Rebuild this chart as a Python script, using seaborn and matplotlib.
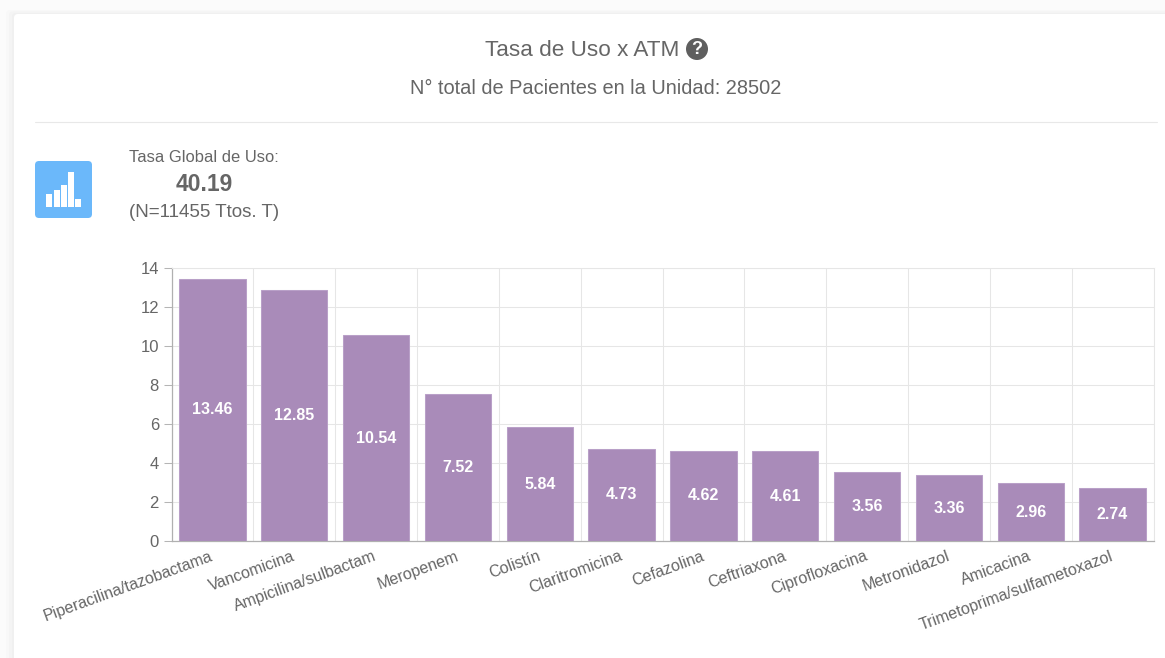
import pandas as pd
import seaborn as sns
import matplotlib.pyplot as plt
from matplotlib.patches import FancyBboxPatch, Rectangle, Circle
from matplotlib.transforms import ScaledTranslation

W, H = 1165, 658

# Data
drugs = ['Piperacilina/tazobactama', 'Vancomicina', 'Ampicilina/sulbactam', 'Meropenem',
         'Colistín', 'Claritromicina', 'Cefazolina', 'Ceftriaxona',
         'Ciprofloxacina', 'Metronidazol', 'Amicacina', 'Trimetoprima/sulfametoxazol']
rates = [13.46, 12.85, 10.54, 7.52, 5.84, 4.73, 4.62, 4.61, 3.56, 3.36, 2.96, 2.74]
y_ticks = [0, 2, 4, 6, 8, 10, 12, 14]

df = pd.DataFrame({'ATM': drugs, 'Tasa': rates})

sns.set_theme(style='white')
plt.rcParams['font.family'] = ['Liberation Sans', 'DejaVu Sans']

fig = plt.figure(figsize=(W / 100, H / 100), dpi=100, facecolor='#fbfbfb')

# Page layer in pixel coordinates
bg = fig.add_axes([0, 0, 1, 1], zorder=0)
bg.set_xlim(0, W)
bg.set_ylim(H, 0)
bg.axis('off')

# Card shadow and card
for off, col in [(8, '#f8f8f8'), (5, '#f4f4f4'), (2, '#f0f0f0')]:
    bg.add_patch(FancyBboxPatch((14 - off, 14 - off / 2), W, H, boxstyle='round,pad=0,rounding_size=4',
                                fc=col, ec='none'))
bg.add_patch(FancyBboxPatch((14, 14), W, H, boxstyle='round,pad=0,rounding_size=4', fc='white', ec='none'))

# Header
bg.text(582, 50, 'Tasa de Uso x ATM', fontsize=16.2, color='#666666', ha='center', va='center')
bg.add_patch(Circle((697, 49), 11, fc='#5f5f5f', ec='none'))
bg.text(697, 49.5, '?', fontsize=13, fontweight='bold', color='white', ha='center', va='center')
bg.text(596, 89, 'N° total de Pacientes en la Unidad: 28502', fontsize=14.4, color='#666666',
        ha='center', va='center')
bg.plot([35, 1157], [122, 122], color='#e8e8e8', lw=0.8)

# Global rate box
bg.add_patch(FancyBboxPatch((38, 164), 51, 51, boxstyle='round,pad=3,rounding_size=4', fc='#6bb8fa', ec='none'))
for x, w, top_y in [(46, 6, 194), (53.5, 6, 190), (60.5, 6, 185), (68, 5.5, 172), (75, 5.5, 199)]:
    bg.add_patch(Rectangle((x, top_y), w, 207 - top_y, fc='white', ec='none'))
bg.text(204, 157.5, 'Tasa Global de Uso:', fontsize=11.9, color='#666666', ha='center', va='center')
bg.text(204, 184.5, '40.19', fontsize=16.5, fontweight='bold', color='#666666', ha='center', va='center')
bg.text(204, 212.5, '(N=11455 Ttos. T)', fontsize=13.5, color='#666666', ha='center', va='center')

# Main chart
left, right, top, bottom = 171.5, 1153.5, 268, 541
ax = fig.add_axes([left / W, 1 - bottom / H, (right - left) / W, (bottom - top) / H], zorder=1)
ax.set_facecolor('white')

sns.barplot(data=df, x='ATM', y='Tasa', color='#a98bb9', saturation=1, width=0.81,
            edgecolor='#b9a0c8', linewidth=0.75, ax=ax, zorder=3)

ax.set_xlim(-0.5, len(drugs) - 0.5)
ax.set_ylim(0, 14)
ax.set_xlabel('')
ax.set_ylabel('')
ax.set_yticks(y_ticks)

# Category grid sits between the bars, labels end under the bar centre
ax.set_xticks([i - 0.5 for i in range(len(drugs) + 1)], minor=True)
ax.grid(True, axis='y', which='major', color='#e6e6e6', lw=0.75, zorder=0)
ax.grid(False, axis='x', which='major')
ax.grid(True, axis='x', which='minor', color='#e6e6e6', lw=0.75, zorder=0)
ax.set_axisbelow(True)

ax.tick_params(axis='x', which='minor', length=9, width=0.75, color='#e0e0e0')
ax.tick_params(axis='x', which='major', length=0, pad=5.5, labelsize=11.5, labelcolor='#666666')
ax.tick_params(axis='y', which='major', length=6, width=0.75, color='#b5b5b5', pad=3,
               left=True, labelsize=12, labelcolor='#666666')
plt.setp(ax.get_xticklabels(), rotation=20, ha='right', rotation_mode='anchor', va='top')

# Nudge the rotated labels a little to the left
shift = ScaledTranslation(-2.5 / 100, 0, fig.dpi_scale_trans)
for label in ax.get_xticklabels():
    label.set_transform(label.get_transform() + shift)

for side in ['top', 'right']:
    ax.spines[side].set_color('#e6e6e6')
    ax.spines[side].set_linewidth(0.75)
for side in ['left', 'bottom']:
    ax.spines[side].set_color('#b0b0b0')
    ax.spines[side].set_linewidth(0.9)

# Value labels inside the bars
ax.bar_label(ax.containers[0], fmt='%.2f', label_type='center', color='white',
             fontsize=11.5, zorder=4, fontweight='bold')

plt.savefig('out.png', dpi=100, facecolor=fig.get_facecolor())
